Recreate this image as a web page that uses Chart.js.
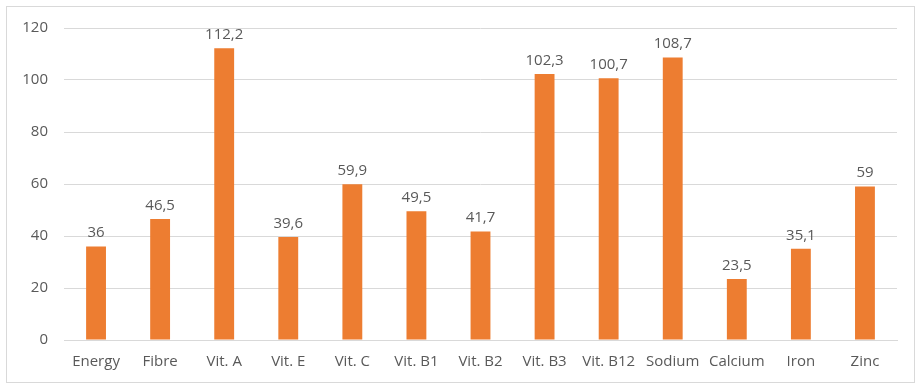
<!DOCTYPE html>
<html>
<head>
<meta charset="utf-8">
<script src="https://cdn.jsdelivr.net/npm/chart.js@4.4.1/dist/chart.umd.min.js"></script>
<style>
  html, body { margin: 0; padding: 0; background: #fff; }
  #frame {
    position: absolute; left: 6px; top: 6px;
    width: 907px; height: 375px;
    border: 1px solid #d9d9d9;
  }
  #chart { display: block; }
</style>
</head>
<body>
<div id="frame"><canvas id="chart" width="907" height="375"></canvas></div>
<script>
const categories = ['Energy', 'Fibre', 'Vit. A', 'Vit. E', 'Vit. C', 'Vit. B1', 'Vit. B2',
  'Vit. B3', 'Vit. B12', 'Sodium', 'Calcium', 'Iron', 'Zinc'];
const values = [36, 46.5, 112.2, 39.6, 59.9, 49.5, 41.7, 102.3, 100.7, 108.7, 23.5, 35.1, 59];
const yTicks = [0, 20, 40, 60, 80, 100, 120];

const FONT = '"Open Sans", "Liberation Sans", sans-serif';
const TEXT = '#595959';

// Draw the value above every bar, with a decimal comma
const valueLabels = {
  id: 'valueLabels',
  afterDatasetsDraw(chart) {
    const ctx = chart.ctx;
    const meta = chart.getDatasetMeta(0);
    ctx.save();
    ctx.font = '15px ' + FONT;
    ctx.fillStyle = TEXT;
    ctx.textAlign = 'center';
    ctx.textBaseline = 'bottom';
    meta.data.forEach((bar, i) => {
      const label = String(values[i]).replace('.', ',');
      ctx.fillText(label, bar.x, bar.y - 6);
    });
    ctx.restore();
  }
};

new Chart(document.getElementById('chart'), {
  type: 'bar',
  data: {
    labels: categories,
    datasets: [{
      data: values,
      backgroundColor: '#ED7D31',
      borderWidth: 0,
      barPercentage: 0.31,
      categoryPercentage: 1
    }]
  },
  options: {
    responsive: false,
    animation: false,
    layout: { padding: { left: 0, right: 17, top: 21, bottom: 0 } },
    plugins: {
      legend: { display: false },
      tooltip: { enabled: false }
    },
    scales: {
      x: {
        grid: { display: false, drawTicks: false },
        border: { display: true, color: '#d9d9d9', width: 1 },
        ticks: { color: TEXT, font: { family: FONT, size: 15 }, padding: 13, maxRotation: 0, autoSkip: false },
        afterFit(scale) { scale.height = 42; }
      },
      y: {
        min: 0,
        max: 120,
        afterBuildTicks(scale) { scale.ticks = yTicks.map(v => ({ value: v })); },
        grid: { color: '#d9d9d9', drawTicks: false },
        border: { display: false },
        ticks: { color: TEXT, font: { family: FONT, size: 15 }, padding: 16 },
        afterFit(scale) { scale.width = 57; scale.paddingTop = 0; scale.paddingBottom = 0; }
      }
    }
  },
  plugins: [valueLabels]
});
</script>
</body>
</html>
